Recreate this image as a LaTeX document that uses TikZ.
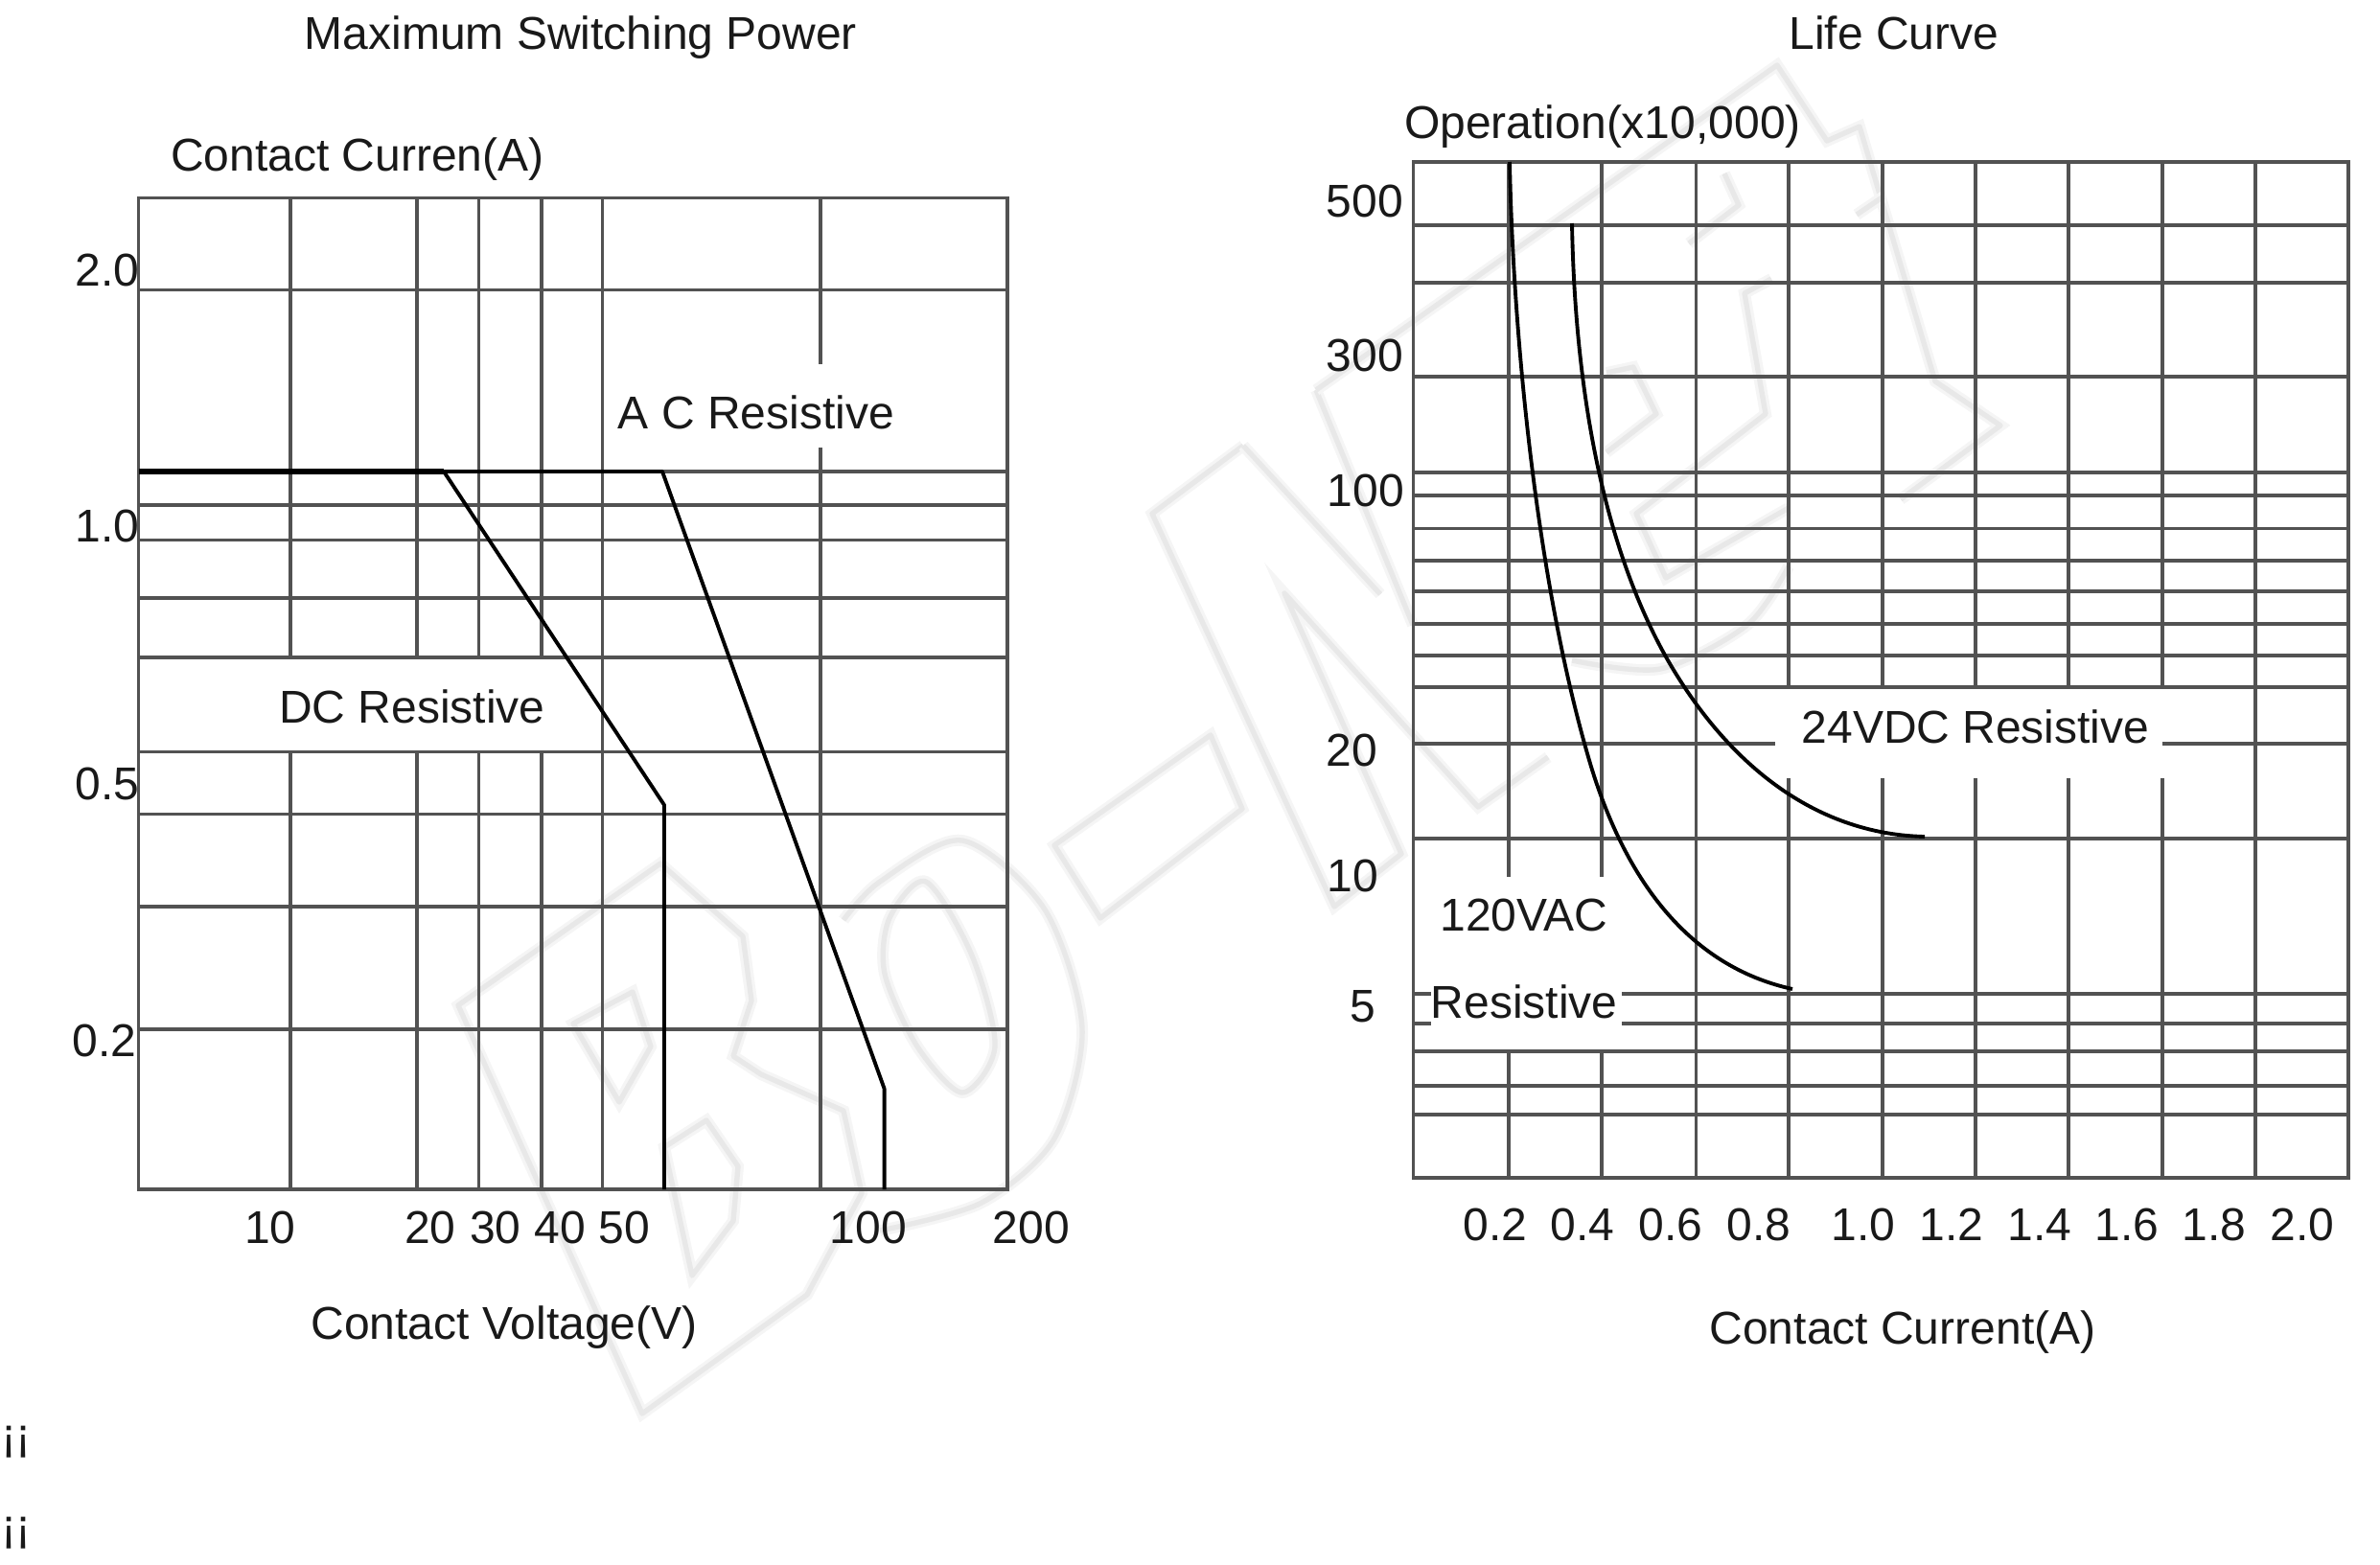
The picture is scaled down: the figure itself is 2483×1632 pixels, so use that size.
\documentclass[tikz,border=0pt]{standalone}
\usepackage{xcolor}
\usepackage{fontspec}
\setmainfont{Liberation Sans}

\begin{document}
\begin{tikzpicture}[x=0.75pt,y=0.75pt,yscale=-1,xscale=1,
  gridline/.style={color=black!68,line width=2.5pt},
  curveline/.style={color=black,line width=2.9pt,line join=round},
  heavyline/.style={color=black,line width=5pt},
  faintmark/.style={color=black!9,line width=4pt,line join=round,preaction={draw,color=black!4,line width=9pt}},
  labeltext/.style={anchor=base,inner sep=0pt,yshift=-1.2pt,color=black!90,font=\fontsize{36}{40}\selectfont}]
\useasboundingbox (0,0) rectangle (2483,1632);

%Watermark letter B
\draw [faintmark] (478,1049) -- (670,1475) -- (842,1351) -- (899,1245) -- (880,1159) -- (794,1121) -- (765,1102) -- (784,1044) -- (775,977) -- (689,901) -- cycle ;
\draw [faintmark] (598,1068) -- (660,1035) -- (679,1092) -- (646,1150) -- cycle ;
\draw [faintmark] (693,1197) -- (737,1169) -- (770,1217) -- (765,1274) -- (722,1331) -- cycle ;
%Watermark letter O
\draw [faintmark] plot [smooth] coordinates {(880,960) (918,920) (1004,877) (1090,949) (1129,1073) (1100,1188) (1024,1255) (918,1284)};
\draw [faintmark] plot [smooth cycle] coordinates {(928,958) (966,920) (1014,997) (1038,1092) (1004,1140) (957,1092) (923,1016)};
%Watermark dash
\draw [faintmark] (1100,882) -- (1263,767) -- (1296,844) -- (1148,958) -- cycle ;
%Watermark letter N
\draw [faintmark] (1297,465) -- (1202,536) -- (1392,946) -- (1462,891) -- (1340,619) -- (1542,842) -- (1615,790) ;
\draw [faintmark] (1297,465) -- (1440,620) ;
\draw [faintmark] (1373,407) -- (1474,652) ;
%Watermark letters E and T
\draw [faintmark] (1373,407) -- (1854,68) -- (1906,147) -- (1940,132) -- (2019,398) -- (2087,444) -- (1983,521) ;
\draw [faintmark] (1937,224) -- (1965,205) ;
\draw [faintmark] (1799,181) -- (1814,214) -- (1762,254) ;
\draw [faintmark] (1848,291) -- (1820,306) -- (1842,432) -- (1707,536) -- (1738,603) -- (1866,530) ;
\draw [faintmark] (1676,389) -- (1704,383) -- (1728,432) -- (1676,472) ;
\draw [faintmark] plot [smooth] coordinates {(1866,591) (1823,652) (1732,698) (1640,689)};

%Shape: Rectangle [left chart frame]
\draw [gridline] (144.5,206.5) -- (1051,206.5) -- (1051,1241) -- (144.5,1241) -- cycle ;
%Straight Lines [left chart, current]
\draw [gridline] (144.5,302.5) -- (1051,302.5) ;
\draw [gridline] (144.5,492) -- (1051,492) ;
\draw [gridline] (144.5,527) -- (1051,527) ;
\draw [gridline] (144.5,563.7) -- (1051,563.7) ;
\draw [gridline] (144.5,624) -- (1051,624) ;
\draw [gridline] (144.5,686) -- (1051,686) ;
\draw [gridline] (144.5,784.6) -- (1051,784.6) ;
\draw [gridline] (144.5,849.4) -- (1051,849.4) ;
\draw [gridline] (144.5,946) -- (1051,946) ;
\draw [gridline] (144.5,1074) -- (1051,1074) ;
%Straight Lines [left chart, voltage]
\draw [gridline] (303,206.5) -- (303,686) (303,784.6) -- (303,1241) ;
\draw [gridline] (435,206.5) -- (435,686) (435,784.6) -- (435,1241) ;
\draw [gridline] (499.5,206.5) -- (499.5,686) (499.5,784.6) -- (499.5,1241) ;
\draw [gridline] (565,206.5) -- (565,686) (565,784.6) -- (565,1241) ;
\draw [gridline] (628.5,206.5) -- (628.5,1241) ;
\draw [gridline] (856,206.5) -- (856,380) (856,467) -- (856,1241) ;

%Straight Lines [limit curves]
\draw [heavyline] (144.5,492) -- (463,492) ;
\draw [curveline] (463,492) -- (691,492) -- (922.6,1136) -- (922.6,1241) ;
\draw [curveline] (463,492) -- (693,840) -- (693,1241) ;

%Shape: Rectangle [right chart frame]
\draw [gridline] (1474.5,169) -- (2450,169) -- (2450,1229) -- (1474.5,1229) -- cycle ;
%Straight Lines [right chart, operations]
\draw [gridline] (1474.5,235) -- (2450,235) ;
\draw [gridline] (1474.5,295) -- (2450,295) ;
\draw [gridline] (1474.5,393) -- (2450,393) ;
\draw [gridline] (1474.5,493) -- (2450,493) ;
\draw [gridline] (1474.5,517) -- (2450,517) ;
\draw [gridline] (1474.5,551.5) -- (2450,551.5) ;
\draw [gridline] (1474.5,585) -- (2450,585) ;
\draw [gridline] (1474.5,617) -- (2450,617) ;
\draw [gridline] (1474.5,651) -- (2450,651) ;
\draw [gridline] (1474.5,684) -- (2450,684) ;
\draw [gridline] (1474.5,717) -- (2450,717) ;
\draw [gridline] (1474.5,776) -- (1852,776) (2256,776) -- (2450,776) ;
\draw [gridline] (1474.5,875) -- (2450,875) ;
\draw [gridline] (1474.5,1037) -- (1493,1037) (1692,1037) -- (2450,1037) ;
\draw [gridline] (1474.5,1068) -- (1493,1068) (1692,1068) -- (2450,1068) ;
\draw [gridline] (1474.5,1097) -- (2450,1097) ;
\draw [gridline] (1474.5,1133) -- (2450,1133) ;
\draw [gridline] (1474.5,1163) -- (2450,1163) ;
%Straight Lines [right chart, current]
\draw [gridline] (1574,169) -- (1574,915) (1574,1097) -- (1574,1229) ;
\draw [gridline] (1671,169) -- (1671,915) (1671,1097) -- (1671,1229) ;
\draw [gridline] (1769.5,169) -- (1769.5,1229) ;
\draw [gridline] (1866,169) -- (1866,717) (1866,812) -- (1866,1229) ;
\draw [gridline] (1964,169) -- (1964,717) (1964,812) -- (1964,1229) ;
\draw [gridline] (2061,169) -- (2061,717) (2061,812) -- (2061,1229) ;
\draw [gridline] (2158,169) -- (2158,717) (2158,812) -- (2158,1229) ;
\draw [gridline] (2256,169) -- (2256,717) (2256,812) -- (2256,1229) ;
\draw [gridline] (2353,169) -- (2353,1229) ;

%Curve Lines [life curves]
\draw [curveline] (1575,169) .. controls (1578,330) and (1600,600) .. (1660,800) .. controls (1700,930) and (1770,1010) .. (1870,1032) ;
\draw [curveline] (1640,233) .. controls (1643,400) and (1670,560) .. (1735,680) .. controls (1790,780) and (1880,870) .. (2008,873) ;

% Text Node
\draw (606,50) node [labeltext] (titlepower) {Maximum Switching Power};
% Text Node
\draw (373,177) node [labeltext] (axiscurrenta) {Contact Curren(A)};
% Text Node
\draw (112,297) node [labeltext] (ticktwo) {2.0};
% Text Node
\draw (112,563.7) node [labeltext] (tickone) {1.0};
% Text Node
\draw (112,833) node [labeltext] (tickhalf) {0.5};
% Text Node
\draw (109,1101) node [labeltext] (tickfifth) {0.2};
% Text Node
\draw (789,446) node [labeltext] (labelac) {A C Resistive};
% Text Node
\draw (430,753) node [labeltext] (labeldc) {DC Resistive};
% Text Node
\draw (282,1296) node [labeltext] (voltten) {10};
% Text Node
\draw (449,1296) node [labeltext] (volttwenty) {20};
% Text Node
\draw (517,1296) node [labeltext] (voltthirty) {30};
% Text Node
\draw (584,1296) node [labeltext] (voltforty) {40};
% Text Node
\draw (651,1296) node [labeltext] (voltfifty) {50};
% Text Node
\draw (906,1296) node [labeltext] (volthundred) {100};
% Text Node
\draw (1076,1296) node [labeltext] (volttwohundred) {200};
% Text Node
\draw (526,1396) node [labeltext] (axisvoltage) {Contact Voltage(V)};
% Text Node
\draw (17,1512) node [labeltext] (markupper) {¡¡};
% Text Node
\draw (17,1607) node [labeltext] (marklower) {¡¡};

% Text Node
\draw (1976,50) node [labeltext] (titlelife) {Life Curve};
% Text Node
\draw (1672,143) node [labeltext] (axisoperation) {Operation(x10,000)};
% Text Node
\draw (1424,225) node [labeltext] (opfivehundred) {500};
% Text Node
\draw (1424,386) node [labeltext] (opthreehundred) {300};
% Text Node
\draw (1425,527) node [labeltext] (ophundred) {100};
% Text Node
\draw (1410,798) node [labeltext] (optwenty) {20};
% Text Node
\draw (1411,929) node [labeltext] (opten) {10};
% Text Node
\draw (1422,1065) node [labeltext] (opfive) {5};
% Text Node
\draw (2061,773.5) node [labeltext] (labeldcv) {24VDC Resistive};
% Text Node
\draw (1590,970) node [labeltext] (labelvac) {120VAC};
% Text Node
\draw (1590,1061) node [labeltext] (labelvacres) {Resistive};
% Text Node
\draw (1560,1293) node [labeltext] (ampa) {0.2};
% Text Node
\draw (1651,1293) node [labeltext] (ampb) {0.4};
% Text Node
\draw (1743,1293) node [labeltext] (ampc) {0.6};
% Text Node
\draw (1835,1293) node [labeltext] (ampd) {0.8};
% Text Node
\draw (1944,1293) node [labeltext] (ampe) {1.0};
% Text Node
\draw (2036,1293) node [labeltext] (ampf) {1.2};
% Text Node
\draw (2128,1293) node [labeltext] (ampg) {1.4};
% Text Node
\draw (2219,1293) node [labeltext] (amph) {1.6};
% Text Node
\draw (2310,1293) node [labeltext] (ampi) {1.8};
% Text Node
\draw (2402,1293) node [labeltext] (ampj) {2.0};
% Text Node
\draw (1985,1401) node [labeltext] (axiscurrentb) {Contact Current(A)};

\end{tikzpicture}
\end{document}
